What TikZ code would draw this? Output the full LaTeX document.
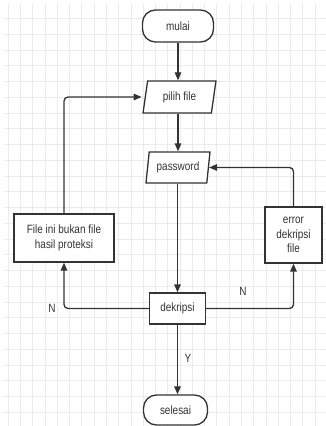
\documentclass[tikz,border=0pt]{standalone}
\usepackage{fontspec}
\setmainfont[FakeStretch=0.83]{Liberation Sans}
\usetikzlibrary{shapes.geometric,arrows.meta}
\definecolor{linec}{HTML}{333333}
\definecolor{gridc}{HTML}{EBEBEB}
\tikzset{
  gridline/.style={draw=gridc, line width=0.9pt},
  base/.style={draw=linec, line width=1.3pt, fill=white, text=linec,
    font=\fontsize{12}{14.5}\selectfont, inner sep=0pt, align=center},
  term/.style={base, rectangle, rounded corners=13pt, minimum width=71pt, minimum height=32pt},
  io/.style={base, trapezium, trapezium left angle=78, trapezium right angle=102,
    trapezium stretches=true, minimum height=32pt},
  proc/.style={base, rectangle},
  arr/.style={draw=linec, line width=1.3pt, rounded corners=4pt,
    -{Triangle[length=8pt,width=6.5pt]}},
  lbl/.style={text=linec, font=\fontsize{12}{14.5}\selectfont, inner sep=0pt}
}
\begin{document}
\begin{tikzpicture}[x=1pt,y=-1pt]
\useasboundingbox (0,0) rectangle (326,426);
\foreach \i in {0,...,25} \draw[gridline] ({8.3+12.27*\i},4) -- ({8.3+12.27*\i},426);
\foreach \k in {0,...,25} \draw[gridline] (4,{18.5+15.75*\k}) -- (326,{18.5+15.75*\k});

\node[term] (mulai) at (178,26) {mulai};
\node[io, minimum width=73pt] (pilih) at (179.5,97) {pilih file};
\node[io, minimum width=64pt, minimum height=31pt] (pass) at (178,167.5) {password};
\node[proc, minimum width=56pt, minimum height=31pt] (dek) at (177.5,308.5) {dekripsi};
\node[term, minimum width=64pt, minimum height=30pt] (selesai) at (175.5,410) {selesai};
\node[proc, minimum width=100pt, minimum height=48pt] (bukan) at (64,238)
  {File ini bukan file\\hasil proteksi};
\node[proc, minimum width=57pt, minimum height=56pt] (err) at (293.5,235)
  {error\\dekripsi\\file};

\draw[arr] (mulai.south) -- (pilih.north -| mulai.south);
\draw[arr] (pilih.south -| pass.north) -- (pass.north);
\draw[arr] (pass.south -| dek.north) -- (dek.north);
\draw[arr] (dek.south) -- (selesai.north -| dek.south);
\draw[arr] (dek.west) -| (bukan.south);
\draw[arr] (dek.east) -| (err.south);
\draw[arr] (bukan.north) |- ([xshift=-3pt]pilih.west);
\draw[arr] (err.north) |- ([xshift=0pt]pass.east);

\node[lbl] (n1) at (52,308) {N};
\node[lbl] (n2) at (243,291) {N};
\node[lbl] (y1) at (188,358) {Y};
\end{tikzpicture}
\end{document}
